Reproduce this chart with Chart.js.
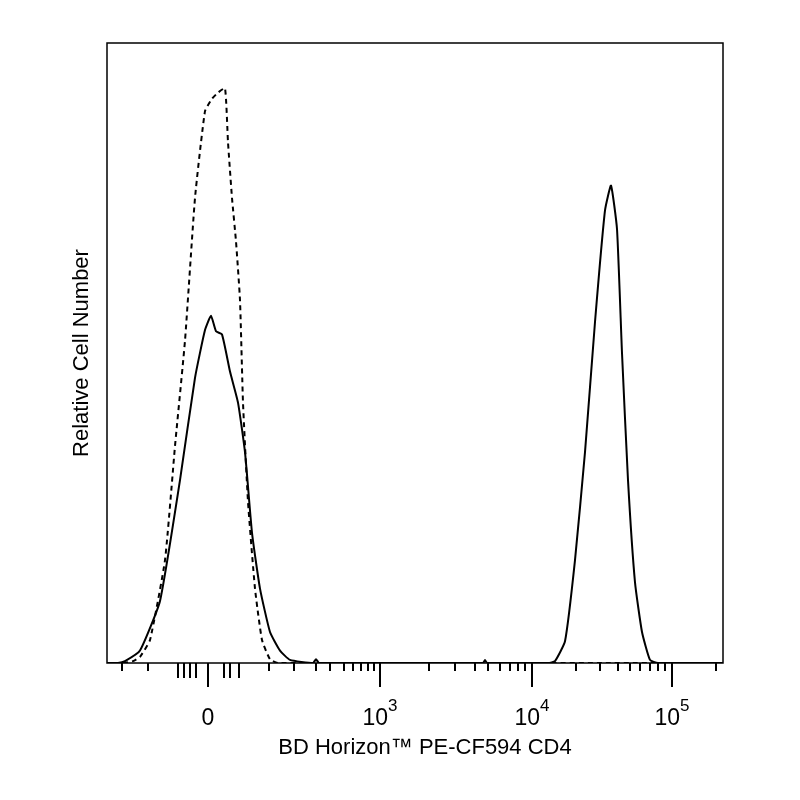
<!DOCTYPE html><html><head><style>html,body{margin:0;padding:0;background:#fff}</style>
<script src="https://cdn.jsdelivr.net/npm/chart.js@4"></script></head><body>
<div style="width:800px;height:800px"><canvas id="c"></canvas></div>
<script>
// x in display units (biexponential transformed), 0 at "0" label
const dashedX=[-85,-75,-68,-58,-43,-33,-23,-13,-3,4,10,17,20,24,28,32,35,40,47,54,62,70,200,515];
const dashedY=[0,0.3,1,3.7,16.6,35,52,75,89,91,92,92.7,84,75,68,58.5,42,26,12,3.7,0.6,0,0,0];
const solidX=[-101,-90,-83,-68,-48,-28,-13,-3,3,8,14,22,30,37,44,52,62,72,82,105,108,111,130,275,277,279,340,347,357,367,377,387,397,403,409,414,420,427,434,442,450,515];
const solidY=[0,0,0.3,2,10,29.5,46,53.7,56,53.5,53,47,42,34,21,12,5,2,0.5,0,0.6,0,0,0,0.5,0,0,0.3,3.5,16.6,34,55,73,77,70,50,29.5,13,5,0.5,0,0];
const majorTicks=[0,172,324,464];
const majorLabels=[["0",""],["10","3"],["10","4"],["10","5"]];
const minorTicks=[-86,-60,-30,-24,-18,-12,16,22,31,61,86,108,122,136,145,153,160,166,221,247,267,280,292,302,310,317,368,392,410,422,432,442,450,457,508];
const longMinor=[-30,-24,-18,-12,16,22,31];
const toPts=(xs,ys)=>xs.map((x,i)=>({x:x,y:ys[i]}));
const axisPlugin={id:'axes',afterDraw(ch){
 const c=ch.ctx,a=ch.chartArea,xs=ch.scales.x;
 c.save();c.strokeStyle='#000';c.lineWidth=1.5;
 c.strokeRect(a.left,a.top,a.right-a.left,a.bottom-a.top);
 c.beginPath();
 minorTicks.forEach(v=>{const p=xs.getPixelForValue(v);c.moveTo(p,a.bottom);c.lineTo(p,a.bottom+(longMinor.includes(v)?15:8));});
 majorTicks.forEach(v=>{const p=xs.getPixelForValue(v);c.moveTo(p,a.bottom);c.lineTo(p,a.bottom+24);});
 c.lineWidth=2;c.stroke();
 c.fillStyle='#000';c.textBaseline='alphabetic';
 majorTicks.forEach((v,i)=>{const p=xs.getPixelForValue(v);const [b,e]=majorLabels[i];
  c.font='23px "Liberation Sans"';const wb=c.measureText(b).width;c.font='17px "Liberation Sans"';const we=c.measureText(e).width;
  const x0=p-(wb+we)/2;c.font='23px "Liberation Sans"';c.textAlign='left';c.fillText(b,x0,725);
  c.font='17px "Liberation Sans"';c.fillText(e,x0+wb,711);});
 c.font='22px "Liberation Sans"';c.textAlign='center';
 c.fillText('BD Horizon™ PE-CF594 CD4',425,754);
 c.translate(88,353);c.rotate(-Math.PI/2);c.fillText('Relative Cell Number',0,0);
 c.restore();}};
new Chart(document.getElementById('c'),{type:'scatter',data:{datasets:[
 {data:toPts(dashedX,dashedY),showLine:true,borderColor:'#000',borderWidth:2,borderDash:[5,4],pointRadius:0,tension:0.15},
 {data:toPts(solidX,solidY),showLine:true,borderColor:'#000',borderWidth:2,pointRadius:0,tension:0.15}]},
 options:{responsive:true,maintainAspectRatio:false,animation:false,
  layout:{padding:{left:107,right:77,top:43,bottom:137}},
  plugins:{legend:{display:false},tooltip:{enabled:false}},
  scales:{x:{type:'linear',min:-101,max:515,display:false},y:{min:0,max:100,display:false}}},
 plugins:[axisPlugin]});
</script></body></html>
